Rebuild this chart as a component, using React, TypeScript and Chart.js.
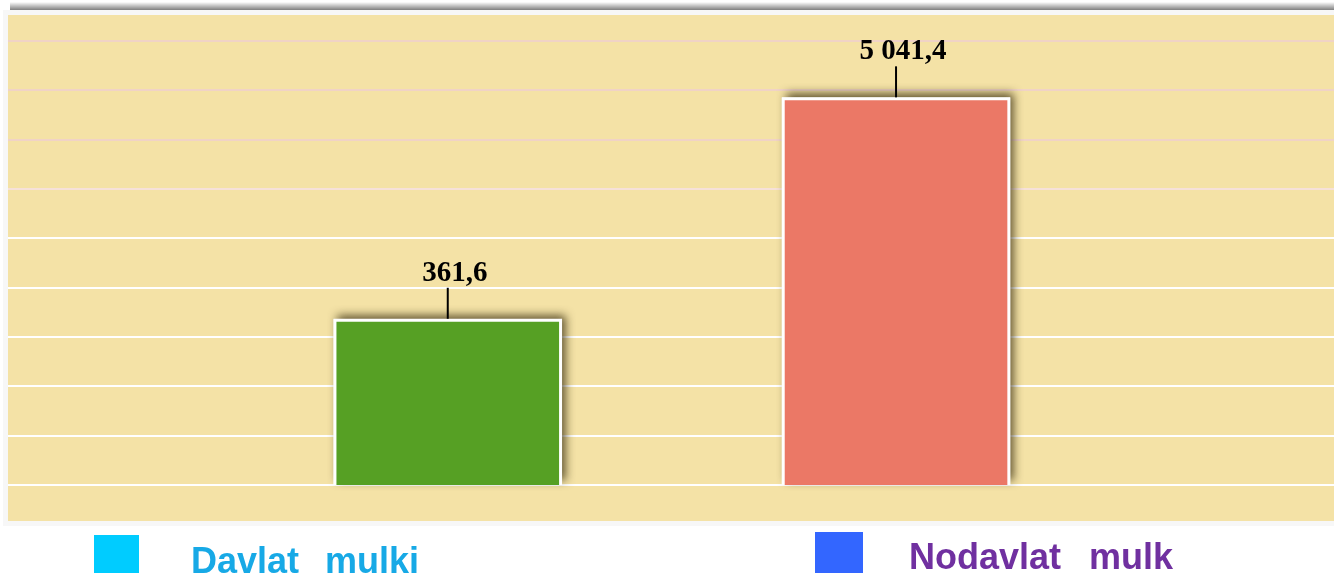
import React, { useEffect, useRef } from 'react';
import { Chart, registerables } from 'chart.js';

Chart.register(...registerables);

// ---- data ----
const categories = ['Davlat  mulki', 'Nodavlat  mulk'];
const values = [361.6, 5041.4];
const gridValues = [0, 1, 2, 3, 4, 5, 6, 7, 8, 9];

// ---- styles ----
const barColors = ['#56a024', '#eb7866'];
const swatchColors = ['#00ccff', '#3366ff'];
const legendTextColors = ['#17a9e6', '#7030a0'];

function fmt(v: number): string {
  const [i, d] = v.toFixed(1).split('.');
  return i.replace(/\B(?=(\d{3})+(?!\d))/g, ' ') + ',' + d;
}

const framePlugin = {
  id: 'frame',
  beforeDraw(chart: any) {
    const { ctx, chartArea: a } = chart;
    ctx.save();
    ctx.fillStyle = '#f7f7f7';
    ctx.fillRect(a.left - 5, a.top - 5, a.right - a.left + 5, a.bottom - a.top + 10);
    const g = ctx.createLinearGradient(0, a.top - 13, 0, a.top - 5);
    g.addColorStop(0, 'rgba(0,0,0,0)');
    g.addColorStop(1, 'rgba(0,0,0,0.5)');
    ctx.fillStyle = g;
    ctx.fillRect(a.left + 2, a.top - 13, a.right - a.left - 2, 8);
    ctx.fillStyle = '#f4e2a6';
    ctx.fillRect(a.left, a.top, a.right - a.left, a.bottom - a.top);
    ctx.restore();
  },
};

const shadowPlugin = {
  id: 'barShadow',
  beforeDatasetsDraw(chart: any) {
    const { ctx } = chart;
    const meta = chart.getDatasetMeta(0);
    meta.data.forEach((el: any) => {
      const { x, y, base, width } = el.getProps(['x', 'y', 'base', 'width'], true);
      ctx.save();
      ctx.shadowColor = 'rgba(55,45,15,0.8)';
      ctx.shadowBlur = 9;
      ctx.shadowOffsetX = 4;
      ctx.shadowOffsetY = -4;
      ctx.fillStyle = '#ffffff';
      ctx.fillRect(x - width / 2, y, width, base - y);
      ctx.restore();
    });
  },
};

const labelPlugin = {
  id: 'valueLabels',
  afterDatasetsDraw(chart: any) {
    const { ctx } = chart;
    const meta = chart.getDatasetMeta(0);
    meta.data.forEach((el: any, i: number) => {
      const { x, y } = el.getProps(['x', 'y'], true);
      ctx.save();
      ctx.strokeStyle = '#000';
      ctx.lineWidth = 2;
      ctx.beginPath();
      ctx.moveTo(x, y);
      ctx.lineTo(x, y - 31);
      ctx.stroke();
      ctx.fillStyle = '#000';
      ctx.font = 'bold 29px "Liberation Serif", "Times New Roman", serif';
      ctx.textAlign = 'center';
      ctx.textBaseline = 'alphabetic';
      ctx.fillText(fmt(values[i]), x + 7, y - 38);
      ctx.restore();
    });
  },
};

export default function App() {
  const ref = useRef<HTMLCanvasElement | null>(null);

  useEffect(() => {
    if (!ref.current) return;
    const chart = new Chart(ref.current, {
      type: 'bar',
      data: {
        labels: categories,
        datasets: [
          {
            data: values.map((v, i) => ({ x: i + 1, y: v })) as any,
            backgroundColor: barColors,
            borderColor: '#ffffff',
            borderWidth: 3,
            base: 50,
            categoryPercentage: 1,
            barPercentage: 0.51,
            xAxisID: 'x',
            yAxisID: 'y',
          } as any,
        ],
      },
      options: {
        responsive: true,
        maintainAspectRatio: false,
        animation: false,
        events: [],
        layout: { padding: { left: 8, top: 15, right: 0, bottom: 52 } },
        plugins: {
          legend: { display: false },
          tooltip: { enabled: false },
        },
        scales: {
          x: {
            type: 'linear',
            min: 0.019,
            max: 2.977,
            bounds: 'data',
            offset: false,
            display: false,
            afterBuildTicks: (s: any) => {
              s.ticks = values.map((_, i) => ({ value: i + 1 }));
            },
          },
          y: {
            type: 'logarithmic',
            min: 32.6,
            max: 13430,
            bounds: 'data',
            display: false,
          },
          y2: {
            type: 'linear',
            position: 'right',
            min: -0.73,
            max: 9.527,
            bounds: 'data',
            afterBuildTicks: (s: any) => {
              s.ticks = gridValues.map((v) => ({ value: v }));
            },
            ticks: { display: false },
            grid: {
              drawTicks: false,
              lineWidth: 2,
              color: (c: any) =>
                c.tick && c.tick.value >= 7 ? '#f0d3c6' : c.tick && c.tick.value >= 6 ? '#f6e1d8' : '#ffffff',
            },
            border: { display: false },
          },
        } as any,
      },
      plugins: [framePlugin, shadowPlugin, labelPlugin],
    });
    return () => chart.destroy();
  }, []);

  const legendFont: React.CSSProperties = {
    position: 'absolute',
    fontFamily: '"Liberation Sans", Arial, sans-serif',
    fontWeight: 'bold',
    fontSize: 36,
    lineHeight: '36px',
    whiteSpace: 'pre',
  };

  return (
    <div style={{ position: 'absolute', left: 0, top: 0, width: 1334, height: 573, overflow: 'hidden', background: '#fff' }}>
      <div style={{ position: 'absolute', left: 0, top: 0, width: 1334, height: 573 }}>
        <canvas ref={ref} />
      </div>
      <div style={{ position: 'absolute', left: 94, top: 535, width: 45, height: 40, background: swatchColors[0] }} />
      <div style={{ ...legendFont, left: 191, top: 543, color: legendTextColors[0], wordSpacing: 3 }}>{categories[0]}</div>
      <div style={{ position: 'absolute', left: 815, top: 532, width: 48, height: 42, background: swatchColors[1] }} />
      <div style={{ ...legendFont, left: 909, top: 539, color: legendTextColors[1], wordSpacing: 4 }}>{categories[1]}</div>
    </div>
  );
}
